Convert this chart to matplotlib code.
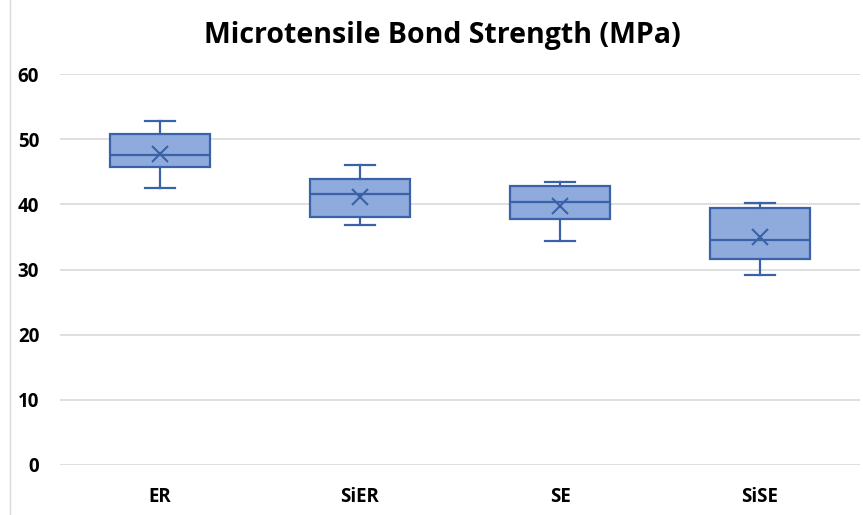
import matplotlib.pyplot as plt
import matplotlib.lines as mlines

groups = ["ER", "SiER", "SE", "SiSE"]
whisker_low = [42.5, 36.8, 34.4, 29.1]
q1 = [45.7, 38.1, 37.7, 31.6]
median = [47.6, 41.6, 40.3, 34.5]
mean = [47.8, 41.1, 39.7, 35.0]
q3 = [50.8, 43.9, 42.8, 39.4]
whisker_high = [52.8, 46.0, 43.5, 40.2]

edge = "#3A62A7"
fill = "#8FAADC"
font = "Open Sans"

stats = []
for i, g in enumerate(groups):
    stats.append(dict(label=g, whislo=whisker_low[i], q1=q1[i], med=median[i],
                      mean=mean[i], q3=q3[i], whishi=whisker_high[i], fliers=[]))

fig = plt.figure(figsize=(8.63, 5.15), dpi=100)
ax = fig.add_axes([60 / 863, 1 - 465 / 515, 800 / 863, (465 - 74) / 515])

line_kw = dict(color=edge, linewidth=1.6)
ax.bxp(stats, positions=range(len(groups)), widths=0.5, capwidths=0.15,
       patch_artist=True, showmeans=True, showfliers=False,
       boxprops=dict(facecolor=fill, edgecolor=edge, linewidth=1.6),
       medianprops=line_kw, whiskerprops=line_kw, capprops=line_kw,
       meanprops=dict(marker="x", markersize=11, markeredgecolor=edge,
                      markeredgewidth=1.5, linestyle="none"),
       zorder=3)

ax.set_xlim(-0.5, len(groups) - 0.5)
ax.set_ylim(0, 60)
ax.set_yticks(range(0, 61, 10))
ax.yaxis.grid(True, color="#D9D9D9", linewidth=1.2, zorder=0)
ax.set_axisbelow(True)
for s in ax.spines.values():
    s.set_visible(False)
ax.tick_params(axis="both", length=0, labelsize=13.5)
ax.tick_params(axis="y", pad=15)
ax.tick_params(axis="x", pad=16)
for lbl in ax.get_xticklabels() + ax.get_yticklabels():
    lbl.set_fontweight("bold")
    lbl.set_fontfamily(font)

fig.text(442 / 863, 1 - 35 / 515, "Microtensile Bond Strength (MPa)",
         ha="center", va="center", fontsize=20.5, fontweight="bold", family=font)

# chart frame edge on the left
fig.add_artist(mlines.Line2D([10 / 863, 10 / 863], [0, 1], color="#D9D9D9",
                             linewidth=1, transform=fig.transFigure))

fig.savefig("out.png", dpi=100)
